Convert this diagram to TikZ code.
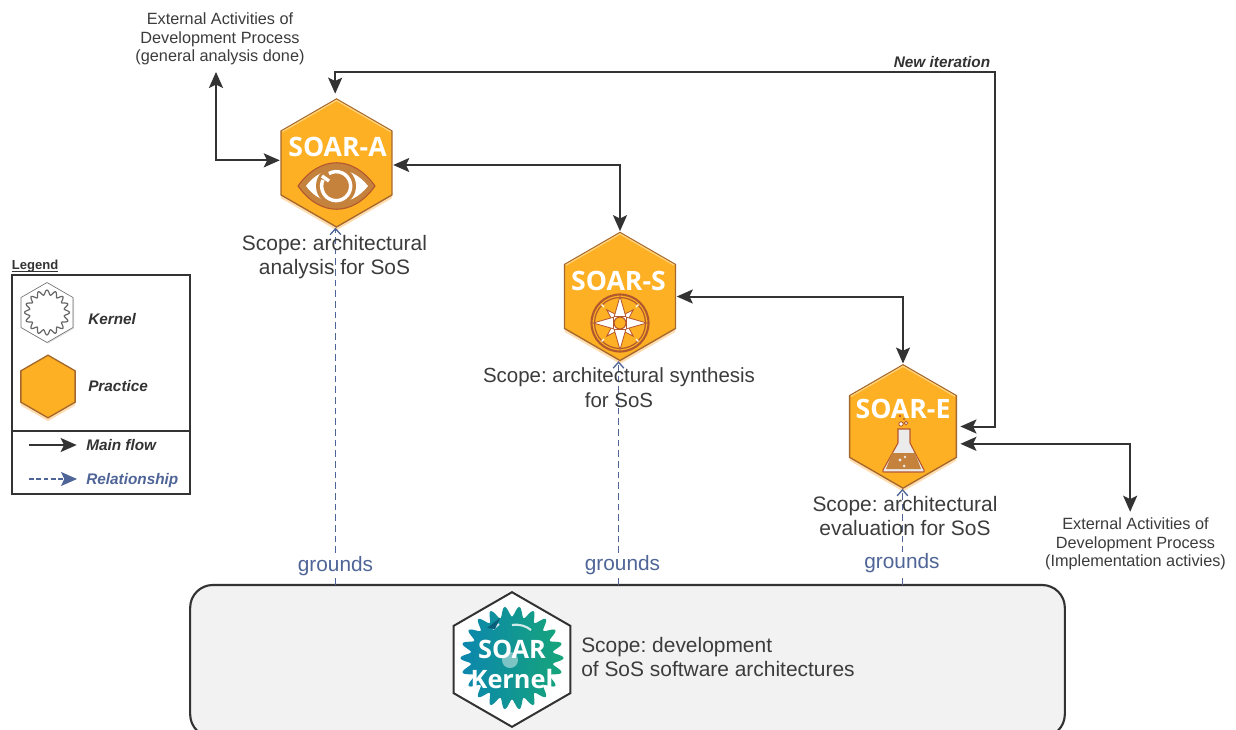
\documentclass[tikz,border=0pt]{standalone}
\usepackage{fontspec}
\usepackage{xcolor}
\usepackage{tikz}
\usetikzlibrary{calc,arrows.meta,shapes.geometric,shadows}
\setmainfont{Liberation Sans}
\newfontfamily\logofont{Open Sans}
\frenchspacing
\definecolor{dark}{HTML}{333333}
\definecolor{scopetext}{HTML}{3C3C3C}
\definecolor{rel}{HTML}{4F6597}
\definecolor{hexfill}{HTML}{FDB024}
\definecolor{hexedge}{HTML}{A5682C}
\definecolor{hexglow}{HTML}{FFDDB0}
\definecolor{hexlight}{HTML}{FFD27A}
\definecolor{iconbrown}{HTML}{C5823C}
\definecolor{iconedge}{HTML}{B4552E}
\definecolor{boxfill}{HTML}{F2F2F2}
\definecolor{gearblue}{HTML}{0C86AE}
\definecolor{gearcyan}{HTML}{14AFCB}
\definecolor{geargreen}{HTML}{16A57A}
\tikzset{
  flowtip/.tip={Stealth[length=12pt,width=10.5pt,inset=2.5pt]},
  flow/.style={draw=dark, line width=1.5pt, flowtip-flowtip, shorten >=1pt, shorten <=1pt},
  legflow/.style={draw=dark, line width=1.2pt, -flowtip},
  legrel/.style={draw=rel, line width=1.2pt, dash pattern=on 3.5pt off 2pt, -flowtip},
  ground/.style={draw=rel, line width=1pt, dash pattern=on 5pt off 3pt, -{Straight Barb[length=4.5pt,width=8pt]}},
  hexa/.style={regular polygon, regular polygon sides=6, regular polygon rotate=30, inner sep=0pt, outer sep=0pt, minimum size=#1},
  practice/.style={hexa=#1, fill=hexfill, draw=hexedge, line width=1pt,
    copy shadow={shadow xshift=0pt, shadow yshift=-2.5pt, draw=none, fill=hexglow}},
  title/.style={text=white, font=\logofont\bfseries\fontsize{20}{24}\selectfont},
  scope/.style={text=scopetext, align=center, font=\fontsize{15.7}{18.6}\selectfont},
  ext/.style={text=scopetext, align=center, font=\fontsize{12.2}{13.8}\selectfont},
  groundlab/.style={text=rel, fill=white, inner sep=1pt, font=\fontsize{15.6}{18}\selectfont},
  leglab/.style={text=dark, anchor=west, inner sep=0pt, font=\bfseries\itshape\fontsize{11.5}{14}\selectfont},
  icon/.style={draw=iconedge, line width=0.8pt},
}

\begin{document}
\begin{tikzpicture}[x=0.75pt,y=-0.75pt]
  \clip (0,0) rectangle (1236,729);
  \fill[white] (0,0) rectangle (1236,729);

  % kernel block
  \node[draw=dark, fill=boxfill, line width=1.6pt, rounded corners=17pt, inner sep=0pt, outer sep=0pt, minimum width=656pt, minimum height=114pt] (kernelbox) at (627.5,661) {};
  \node[hexa=101pt, draw=dark, fill=white, line width=1.5pt] (kernel) at (512,659.5) {};
  \shade[left color=gearblue, middle color=gearcyan, right color=geargreen]
    plot[domain=0:360,samples=361] ({512+(46.5+5*cos(22*\x))*cos(\x)},{658+(46.5+5*cos(22*\x))*sin(\x)}) -- cycle;
  \fill[white,opacity=0.45] (510,660) circle (8);
  \draw[white,line width=1.6pt,opacity=0.8] (493,629) -- (499,624) (512,625) .. controls (520,624) and (526,626) .. (531,630);
  \fill[gearblue!70!black] (487,628) -- (500,618) -- (495,629) -- cycle;
  \node[text=white, align=center, font=\logofont\bfseries\fontsize{19}{22.5}\selectfont] (kernellogo) at (512,664) {SOAR\\Kernel};
  \node[scope, align=left, anchor=west, inner sep=0pt] (kernelscope) at (581,657) {Scope: development\\of SoS software architectures};

  % practices
  \node[practice=96pt] (soarA) at (336.5,163) {};
  \node[practice=96pt] (soarS) at (620,296.5) {};
  \node[practice=92.5pt] (soarE) at (903,426.5) {};
  \foreach \n/\r in {soarA/47,soarS/47,soarE/45.2}
    \draw[hexlight, line width=1pt] ([shift={(150:\r pt)}]\n.center) -- ([shift={(90:\r pt)}]\n.center) -- ([shift={(30:\r pt)}]\n.center);

  \node[title] (titleA) at (337.5,146.5) {SOAR-A};
  \node[title] (titleS) at (618.5,280.5) {SOAR-S};
  \node[title] (titleE) at (903,408.5) {SOAR-E};

  % eye
  \draw[icon, fill=iconbrown] (298,186) .. controls (320,155) and (353,155) .. (375,186) .. controls (353,217) and (320,217) .. (298,186) -- cycle;
  \fill[white] (306,186) .. controls (322,164) and (351,164) .. (368,186) .. controls (351,208) and (322,208) .. (306,186) -- cycle;
  \fill[iconbrown] (336,186) circle (20);
  \draw[white, line width=2.6pt] (323,180) arc (205:-120:14.5);
  \draw[white, line width=2.6pt] (322,176) -- (329,181);

  % compass
  \draw[iconedge!80!hexedge, line width=1.6pt] (620,323) circle (28.5);
  \draw[iconedge!80!hexedge, line width=0.9pt] (620,323) circle (25.5);
  \foreach \a in {45,135,225,315}
    \draw[icon, fill=white, line width=0.6pt] ([shift={(\a-40:5pt)}]620,323) -- ([shift={(\a:14pt)}]620,323) -- ([shift={(\a+40:5pt)}]620,323) -- cycle;
  \foreach \a in {0,90,180,270}
    \draw[icon, fill=white, line width=0.6pt] ([shift={(\a-42:6.5pt)}]620,323) -- ([shift={(\a:20pt)}]620,323) -- ([shift={(\a+42:6.5pt)}]620,323) -- cycle;
  \foreach \a in {45,135,225,315}
    \draw[white, line width=1pt] ([shift={(\a:17pt)}]620,323) -- ([shift={(\a:19.5pt)}]620,323);
  \draw[icon, fill=hexfill] (620,323) circle (6);

  % flask
  \draw[icon, fill=black!8] (898,429) -- (910,429) -- (910,443) -- (924,470) .. controls (925,472) and (924,472) .. (922,472) -- (885,472) .. controls (883,472) and (882,472) .. (883,470) -- (898,443) -- cycle;
  \fill[iconbrown] (892,453) -- (915,453) -- (921,469) -- (886,469) -- cycle;
  \fill[black!8] (900,460) circle (1.6) (905,457) circle (1.3) (904,466) circle (1.5);
  \draw[icon, fill=white, line width=0.6pt] (901,424) circle (2.2) (906,423) circle (1.8);
  \fill[iconedge] (900,416) circle (1.3) (904,419) circle (1.2);

  % legend
  \node[text=dark, font=\bfseries\fontsize{9.8}{11}\selectfont, inner sep=0pt] (legendtitle) at (35,266) {Legend};
  \draw[dark, line width=0.7pt] ([yshift=-1.4pt]legendtitle.base west) -- ([yshift=-1.4pt]legendtitle.base east);
  \node[draw=dark, line width=1.5pt, inner sep=0pt, outer sep=0pt, minimum width=133.5pt, minimum height=164pt] (legendbox) at (101,384.5) {};
  \coordinate (splitL) at (12,431);
  \coordinate (splitR) at (190,431);
  \draw[draw=dark, line width=1.5pt] (splitL) -- (splitR);
  \node[hexa=45pt, draw=black!55, fill=white, line width=0.5pt, copy shadow={shadow xshift=0.8pt, shadow yshift=-0.8pt, draw=none, fill=black!12}] (legkernel) at (47,312.5) {};
  \draw[black!60, line width=0.9pt] plot[domain=0:360,samples=241] ({47+(20+2.4*cos(16*\x))*cos(\x)},{312.5+(20+2.4*cos(16*\x))*sin(\x)}) -- cycle;
  \node[practice=47pt] (legpractice) at (48,386.5) {};
  \node[leglab] (kernellab) at (88,319) {Kernel};
  \node[leglab] (practicelab) at (88,386) {Practice};
  \node[leglab] (mainlab) at (86,445) {Main flow};
  \node[leglab, text=rel] (rellab) at (86,480.5) {Relationship};
  \coordinate (mainstart) at (29,445);
  \coordinate (relstart) at (29,479);
  \coordinate (relend) at (77,479);
  \draw[legflow] (mainstart) -- ([xshift=-7pt]mainlab.west);
  \draw[legrel] (relstart) -- (relend);

  % external activities
  \node[ext, inner sep=0pt] (extA) at (220,39) {External Activities of\\Development Process\\(general analysis done)};
  \node[ext, inner sep=0pt] (extE) at (1135.5,544) {External Activities of\\Development Process\\(Implementation activies)};

  % main flow
  \coordinate (turnR) at (995,72);
  \draw[flow, shorten >=1pt, shorten <=5pt] ([xshift=-3pt]extA.south) |- ([yshift=2pt]soarA.west);
  \draw[flow] ([yshift=-1.5pt]soarA.east) -| (soarS.north);
  \draw[flow] (soarS.east) -| (soarE.north);
  \draw[flow, shorten >=4pt, shorten <=3pt] (soarE.east) -| (turnR) -| ([xshift=-1pt]soarA.north);
  \draw[flow, shorten <=3pt, shorten >=4.5pt] ([yshift=-13pt]soarE.east) -| ([xshift=-4pt]extE.north);
  \node[text=dark, font=\bfseries\itshape\fontsize{11.5}{14}\selectfont, inner sep=0pt] (newiter) at (942,62) {New iteration};

  % relationships
  \draw[ground] ([xshift=-0.75pt]soarA.south |- kernelbox.north) -- ([xshift=-0.75pt,yshift=-0.5pt]soarA.south);
  \draw[ground] ([xshift=-1.1pt]soarS.south |- kernelbox.north) -- ([xshift=-1.1pt,yshift=-0.5pt]soarS.south);
  \draw[ground] ([xshift=-0.4pt]soarE.south |- kernelbox.north) -- ([xshift=-0.4pt,yshift=-0.5pt]soarE.south);
  \node[groundlab] (groundsA) at (335.5,566.5) {grounds};
  \node[groundlab] (groundsS) at (622.5,565.5) {grounds};
  \node[groundlab] (groundsE) at (902,563) {grounds};

  % scopes
  \node[scope] (scopeA) at (334.5,257) {Scope: architectural\\analysis for SoS};
  \node[scope, font=\fontsize{15.35}{18.6}\selectfont] (scopeS) at (619,388) {Scope: architectural synthesis\\for SoS};
  \node[scope] (scopeE) at (905,516) {Scope: architectural\\evaluation for SoS};
\end{tikzpicture}
\end{document}
